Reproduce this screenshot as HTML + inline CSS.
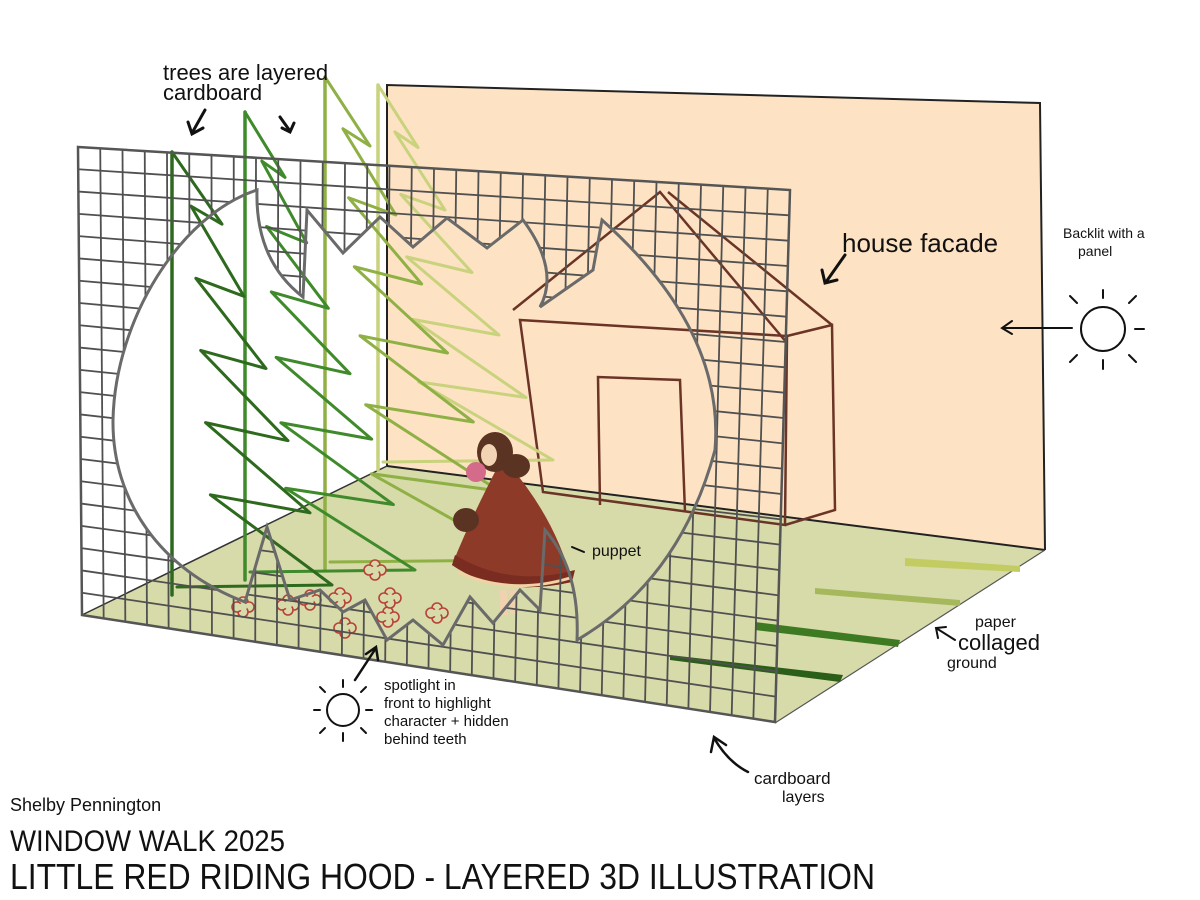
<!DOCTYPE html>
<html><head><meta charset="utf-8"><style>
html,body{margin:0;padding:0;background:#fff;}
svg{display:block}
text{font-family:"Liberation Sans",sans-serif;fill:#111}
</style></head><body>
<svg id="s" width="1200" height="900" viewBox="0 0 1200 900" xmlns="http://www.w3.org/2000/svg">
<defs>
<path id="mp" d="M257,190 C180,215 115,320 113,420 C112,500 160,570 245,602 L267,527 L290,600 L320,590 L343,612 L365,600 L387,640 L413,620 L443,645 L470,597 L493,623 L520,590 L540,610 L545,530 Q580,570 577,640 Q680,580 715,450 Q725,330 602,220 L593,270 L540,307 Q560,270 523,220 L487,248 L447,218 L413,247 L380,217 L343,253 L307,210 L303,297 Q255,260 257,190 Z"/>
<mask id="m">
<rect x="0" y="0" width="1200" height="900" fill="#fff"/>
<use href="#mp" fill="#000"/>
</mask>
</defs>
<!-- back wall -->
<polygon points="387,85 1040,103 1045,550 387,466" fill="#fde3c4"/>
<polyline points="387,466 387,85 1040,103 1045,550" fill="none" stroke="#222" stroke-width="2"/>
<!-- floor -->
<polygon points="82,615 387,466 1045,550 775,723" fill="#d7dba9"/>
<line x1="387" y1="466" x2="1045" y2="550" stroke="#222" stroke-width="2"/>
<line x1="82" y1="615" x2="387" y2="466" stroke="#333" stroke-width="1.5"/>
<line x1="775" y1="723" x2="1045" y2="550" stroke="#555" stroke-width="1.2"/>
<!-- floor strokes -->
<path d="M905,558 L1020,566 L1020,572 L905,566Z" fill="#c3cc63"/>
<path d="M815,588 L960,600 L960,606 L815,594Z" fill="#a5b85c"/>
<path d="M755,622 L900,640 L898,647 L755,630Z" fill="#3e7a22"/>
<path d="M670,655 L843,675 L840,682 L670,660Z" fill="#2b5e18"/>
<!-- house -->
<g stroke="#6b3426" stroke-width="2.5" fill="none">
<polyline points="513,310 660,192 787,343"/>
<line x1="668" y1="192" x2="832" y2="325"/>
<polygon points="520,320 787,336 785,525 543,492"/>
<polyline points="787,336 832,325 835,510 785,525"/>
<polyline points="600,505 598,377 680,380 685,512"/>
</g>
<g id="trees" fill="none" stroke-linejoin="round" stroke-linecap="round"></g>
<!-- flowers -->
<g id="fl" stroke="#b8413a" stroke-width="1.6" fill="#d7dba9"></g>
<!-- puppet -->
<g>
<path d="M497,468 Q470,520 452,565 Q500,598 572,582 Q556,520 510,466Z" fill="#8e3a28"/>
<path d="M452,565 Q500,598 572,582 L575,570 Q510,588 455,555Z" fill="#7a2c20"/>
<path d="M458,572 Q510,596 570,578" stroke="#f0d2a5" stroke-width="3" fill="none"/>
<rect x="500" y="590" width="7" height="25" fill="#f0d2b0"/><rect x="510" y="590" width="7" height="24" fill="#f0d2b0"/>
<ellipse cx="466" cy="520" rx="13" ry="12" fill="#5b3322"/>
<ellipse cx="495" cy="452" rx="18" ry="20" fill="#5b3322"/>
<ellipse cx="516" cy="466" rx="14" ry="12" fill="#5b3322"/>
<ellipse cx="489" cy="455" rx="8" ry="11" fill="#f2d4b4"/>
<ellipse cx="476" cy="472" rx="10" ry="10" fill="#d46b8b"/>
</g>
<!-- grid -->
<g id="grid" mask="url(#m)" stroke="#505050" stroke-width="1.8" fill="none"></g>
<polygon points="78,147 790,190 775,722 82,615" fill="none" stroke="#555" stroke-width="2.5"/>
<use href="#mp" fill="none" stroke="#6a6a6a" stroke-width="3"/>
<!-- labels -->
<g font-size="22"><text x="163" y="80">trees are layered</text><text x="163" y="100">cardboard</text></g>
<g stroke="#111" stroke-width="3" fill="none" stroke-linecap="round">
<path d="M205,110 L192,133 M188,122 L192,134 L203,128"/>
<path d="M280,117 L290,131 M282,128 L290,132 L294,123"/>
<path d="M845,255 L826,282 M822,270 L825,283 L837,280"/>
<path d="M572,547 L584,552" stroke-width="2"/>
</g>
<text x="842" y="252" font-size="26">house facade</text>
<text x="1063" y="238" font-size="14">Backlit with a</text>
<text x="1078" y="256" font-size="14">panel</text>
<g stroke="#111" stroke-width="2" fill="none" stroke-linecap="round">
<circle cx="1103" cy="329" r="22"/>
<path d="M1103,290 v8 M1103,360 v9 M1135,329 h9 M1129,303 l7,-7 M1129,355 l7,7 M1077,303 l-7,-7 M1077,355 l-7,7"/>
<path d="M1072,328 L1002,328 M1012,321 L1002,328 L1012,334"/>
<circle cx="343" cy="710" r="16"/>
<path d="M343,680 v7 M343,733 v8 M366,710 h6 M314,710 h6 M361,692 l5,-5 M325,692 l-5,-5 M325,728 l-5,5 M361,728 l5,5"/>
<path d="M355,680 L376,648 M366,654 L376,647 L378,660" stroke-width="2.5"/>
<path d="M748,772 Q728,762 714,738 M711,752 L714,737 L726,745" stroke-width="2.5"/>
<path d="M955,640 L936,628 M938,638 L936,628 L946,627" stroke-width="2"/>
</g>
<text x="592" y="556" font-size="16">puppet</text>
<g font-size="15"><text x="384" y="690">spotlight in</text><text x="384" y="708">front to highlight</text><text x="384" y="726">character + hidden</text><text x="384" y="744">behind teeth</text></g>
<text x="975" y="627" font-size="16">paper</text>
<text x="958" y="650" font-size="22">collaged</text>
<text x="947" y="668" font-size="16">ground</text>
<text x="754" y="784" font-size="17">cardboard</text>
<text x="782" y="802" font-size="16">layers</text>
<text x="10" y="811" font-size="18">Shelby Pennington</text>
<text x="10" y="851" font-size="30" textLength="275" lengthAdjust="spacingAndGlyphs">WINDOW WALK 2025</text>
<text x="10" y="889" font-size="36" textLength="865" lengthAdjust="spacingAndGlyphs">LITTLE RED RIDING HOOD - LAYERED 3D ILLUSTRATION</text>
</svg>
<script>
var NS="http://www.w3.org/2000/svg";
function el(p,t,a){var e=document.createElementNS(NS,t);for(var k in a)e.setAttribute(k,a[k]);p.appendChild(e);return e;}
var g=document.getElementById('grid');
var TL=[78,147],TR=[790,190],BR=[775,722],BL=[82,615];
function P(u,v){var tx=TL[0]+(TR[0]-TL[0])*u,ty=TL[1]+(TR[1]-TL[1])*u,bx=BL[0]+(BR[0]-BL[0])*u,by=BL[1]+(BR[1]-BL[1])*u;return[tx+(bx-tx)*v,ty+(by-ty)*v];}
var NC=32,NR=21;
for(var i=1;i<NC;i++){var a=P(i/NC,0),b=P(i/NC,1);el(g,'line',{x1:a[0],y1:a[1],x2:b[0],y2:b[1]});}
for(var j=1;j<NR;j++){var a=P(0,j/NR),b=P(1,j/NR);el(g,'line',{x1:a[0],y1:a[1],x2:b[0],y2:b[1]});}
var T=document.getElementById('trees');
var trees=[
 {x:378,top:85,bot:470,w0:40,w1:175,n:6,c:"#c9d27c"},
 {x:325,top:77,bot:570,w0:45,w1:200,n:7,c:"#8fb045"},
 {x:245,top:112,bot:580,w0:40,w1:170,n:7,c:"#3f8a2a"},
 {x:172,top:152,bot:595,w0:50,w1:160,n:6,c:"#2e6a1d"}];
trees.forEach(function(t){
 el(T,'line',{x1:t.x,y1:t.top,x2:t.x,y2:t.bot,stroke:t.c,"stroke-width":3.5});
 var pts=[[t.x,t.top]];var h=(t.bot-t.top-10)/t.n;
 for(var k=0;k<t.n;k++){var w=t.w0+(t.w1-t.w0)*k/(t.n-1);var ty=t.top+h*(k+1);
  pts.push([t.x+w,ty]);if(k<t.n-1)pts.push([t.x+w*0.22+8,ty-h*0.25]);}
 pts.push([t.x+5,t.bot-8]);
 el(T,'polyline',{points:pts.map(function(p){return p.join(',')}).join(' '),stroke:t.c,"stroke-width":3});
});
var F=document.getElementById('fl');
[[243,607],[288,605],[340,598],[375,570],[345,628],[388,617],[437,613],[310,600],[390,598]].forEach(function(p){
 [[0,-5],[6,0],[0,5],[-6,0]].forEach(function(d){el(F,'circle',{cx:p[0]+d[0],cy:p[1]+d[1],r:5});});
 el(F,'circle',{cx:p[0],cy:p[1],r:4,stroke:"none"});
});
</script>
</body></html>
